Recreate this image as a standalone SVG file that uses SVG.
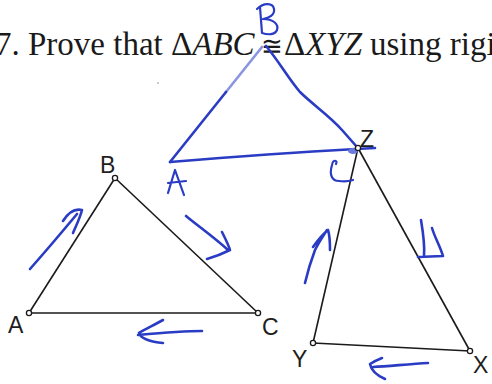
<svg xmlns="http://www.w3.org/2000/svg" width="492" height="384" viewBox="0 0 492 384">
<style>
.title{font-family:"Liberation Serif","Times New Roman",serif;font-size:33px;fill:#1a1a1a}
.it{font-style:italic}
.lbl{font-family:"Liberation Sans",Arial,sans-serif;font-size:23px;fill:#1e1e1e}
.edge{stroke:#1a1a1a;stroke-width:1.6;fill:none}
.vtx{fill:#fff;stroke:#1a1a1a;stroke-width:1.3}
.ink{stroke:#2a3cc4;stroke-width:2.6;fill:none;stroke-linecap:round;stroke-linejoin:round}
.inkl{stroke:#2a3cc4;stroke-width:2.2;fill:none;stroke-linecap:round;stroke-linejoin:round}
</style>
<rect width="492" height="384" fill="#fff"/>
<g id="title">
<text class="title" x="-5" y="55">7. Prove that</text>
<text class="title" x="171" y="55">Δ<tspan class="it">ABC</tspan></text>
<text class="title" x="261" y="55" style="font-size:26px;font-family:'DejaVu Serif','Liberation Serif',serif">≅</text>
<text class="title" x="284" y="55">Δ<tspan class="it">XYZ</tspan></text>
<text class="title" x="370" y="55">using rigi</text>
</g>
<g id="connectors">
<line class="edge" x1="29" y1="313" x2="115" y2="178"/>
<line class="edge" x1="115" y1="178" x2="258" y2="313"/>
<line class="edge" x1="29" y1="313" x2="258" y2="313"/>
<line class="edge" x1="358" y1="148" x2="313" y2="343"/>
<line class="edge" x1="358" y1="148" x2="470" y2="351"/>
<line class="edge" x1="313" y1="343" x2="470" y2="351"/>
</g>
<g id="annotation">
<path class="ink" d="M170,162 L226,92"/>
<path class="ink" d="M226,92 L262,47" stroke-opacity="0.55"/>
<path class="ink" d="M266,46 C278,60 288,78 300,92 C312,104 330,116 342,130 L357,147"/>
<path class="ink" d="M170,162 C230,157 300,152 356,149 L375,148"/>
<ellipse cx="353" cy="151" rx="5" ry="3" fill="#6a7ae0"/>
<path class="inkl" d="M260,7 L262,33 M257,9 C264,2 273,3 274,9 C275,15 269,18 263,19 C273,19 279,24 277,30 C275,35 268,35 262,33"/>
<path class="inkl" d="M168,193 L175,170 L184,195 M168,183 L186,181"/>
<path class="inkl" d="M336,164 C338,160 333,159 332,165 C329,175 332,181 339,181 C345,182 350,181 353,180"/>
<path class="ink" d="M30,269 C45,252 62,232 77,214 M63,221 C68,213 74,208 82,210 C80,218 76,226 73,233"/>
<path class="ink" d="M186,216 C198,226 215,238 228,250 M222,232 C226,240 229,246 230,250 C222,254 214,257 207,259"/>
<path class="ink" d="M138,335 C160,333 182,331 202,331 M163,320 C154,325 146,329 139,333 C140,338 150,342 163,343"/>
<path class="ink" d="M305,283 C308,270 312,258 315,250 C319,242 323,236 327,230 M313,247 C318,240 323,234 328,230 C330,236 330,244 330,250"/>
<path class="ink" d="M421,220 C423,232 425,245 424,256 M418,257 L443,256 M432,228 C435,238 440,246 443,256"/>
<path class="ink" d="M373,367 C390,366 410,364 428,363 M382,358 C377,360 373,362 370,364 C371,369 376,375 385,379"/>
<circle cx="158" cy="83" r="0.8" fill="#888"/>
</g>
<g id="node-A"><circle class="vtx" cx="29" cy="313" r="2.6"/><text class="lbl" x="8" y="333">A</text></g>
<g id="node-B"><circle class="vtx" cx="115" cy="178" r="2.6"/><text class="lbl" x="100" y="173">B</text></g>
<g id="node-C"><circle class="vtx" cx="258" cy="313" r="2.6"/><text class="lbl" x="262" y="335">C</text></g>
<g id="node-Z"><circle class="vtx" cx="358" cy="148" r="2.6"/><text class="lbl" x="360" y="147">Z</text></g>
<g id="node-Y"><circle class="vtx" cx="313" cy="343" r="2.6"/><text class="lbl" x="292" y="367">Y</text></g>
<g id="node-X"><circle class="vtx" cx="470" cy="351" r="2.6"/><text class="lbl" x="473" y="373">X</text></g>
</svg>
